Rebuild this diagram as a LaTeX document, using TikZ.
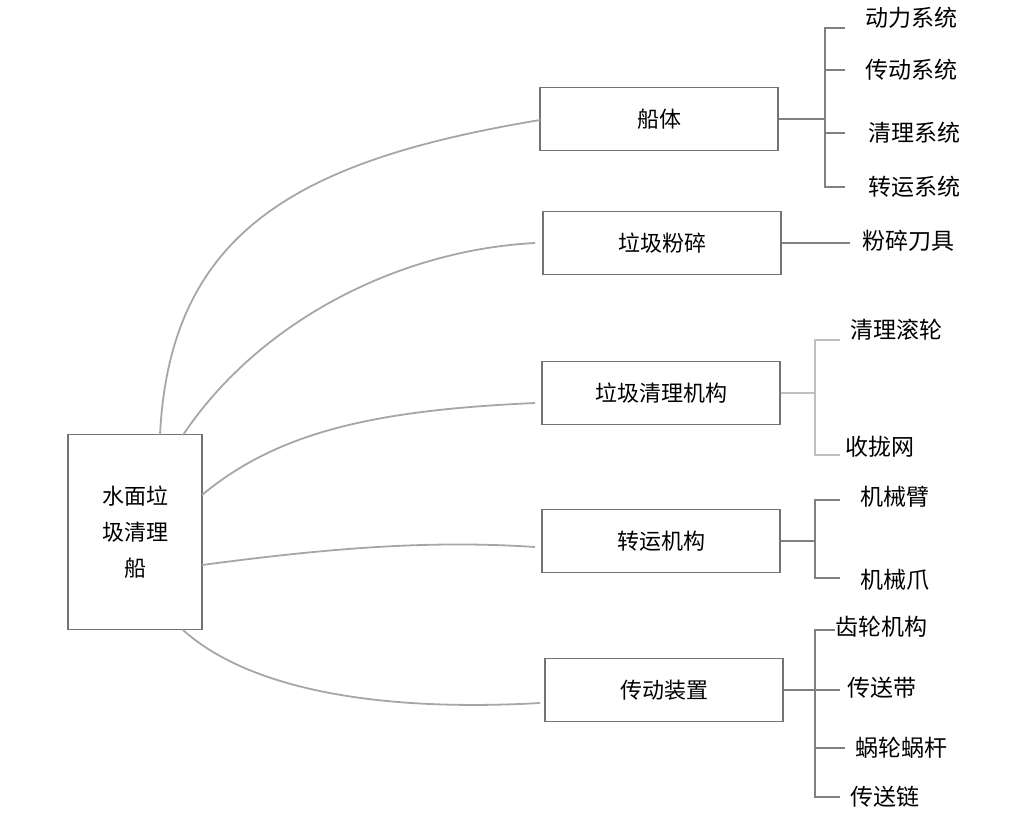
\documentclass[tikz,border=0pt]{standalone}
\usepackage{fontspec}
\newfontfamily\cjk{Noto Sans CJK SC}
\begin{document}
\begin{tikzpicture}[x=1pt,y=-1pt,
  box/.style={draw=black!55,line width=1.2pt,fill=white,font=\cjk\fontsize{22}{26}\selectfont,inner sep=0pt},
  leaf/.style={anchor=west,font=\cjk\fontsize{23}{26}\selectfont,inner sep=0pt},
  con/.style={draw=black!35,line width=1.8pt},
  br/.style={draw=black!50,line width=1.2pt},
  lbr/.style={draw=black!25,line width=1.2pt}]
\useasboundingbox (0,0) rectangle (1024,816);
\node[box,minimum width=134pt,minimum height=195pt,align=center,font=\cjk\fontsize{22}{36}\selectfont] (root) at (135,532) {水面垃\\圾清理\\船};
\node[box,minimum width=238pt,minimum height=63pt] (b1) at (659,119) {船体};
\node[box,minimum width=238pt,minimum height=63pt] (b2) at (662,243) {垃圾粉碎};
\node[box,minimum width=238pt,minimum height=63pt] (b3) at (661,393) {垃圾清理机构};
\node[box,minimum width=238pt,minimum height=63pt] (b4) at (661,541) {转运机构};
\node[box,minimum width=238pt,minimum height=63pt] (b5) at (664,690) {传动装置};
% curves
\coordinate (r1) at (160,435); \coordinate (e1) at (540,120);
\coordinate (r2) at (183,435); \coordinate (e2) at (535,243);
\coordinate (r3) at (202,495); \coordinate (e3) at (535,403);
\coordinate (r4) at (202,565); \coordinate (e4) at (535,547);
\coordinate (r5) at (183,630); \coordinate (e5) at (540,703);
\draw[con] (r1) .. controls (170,230) and (300,160) .. (e1);
\draw[con] (r2) .. controls (260,320) and (400,250) .. (e2);
\draw[con] (r3) .. controls (280,430) and (380,410) .. (e3);
\draw[con] (r4) .. controls (330,548) and (430,540) .. (e4);
\draw[con] (r5) .. controls (250,690) and (380,712) .. (e5);
% leaves
\node[leaf] (l11) at (865,18) {动力系统};
\node[leaf] (l12) at (865,70) {传动系统};
\node[leaf] (l13) at (868,133) {清理系统};
\node[leaf] (l14) at (868,187) {转运系统};
\node[leaf] (l21) at (862,241) {粉碎刀具};
\node[leaf] (l31) at (850,330) {清理滚轮};
\node[leaf] (l32) at (845,447) {收拢网};
\node[leaf] (l41) at (860,497) {机械臂};
\node[leaf] (l42) at (860,580) {机械爪};
\node[leaf] (l51) at (835,627) {齿轮机构};
\node[leaf] (l52) at (847,688) {传送带};
\node[leaf] (l53) at (855,748) {蜗轮蜗杆};
\node[leaf] (l54) at (850,797) {传送链};
% brackets
\draw[br] (b1.east) -- (825,119);
\draw[br] (845,28) -| (825,187) -- (845,187);
\draw[br] (825,70) -- (845,70); \draw[br] (825,133) -- (845,133);
\draw[br] (b2.east) -- (850,243);
\draw[lbr] (b3.east) -- (815,393);
\draw[lbr] (840,340) -| (815,455) -- (840,455);
\draw[br] (b4.east) -- (815,541);
\draw[br] (840,500) -| (815,578) -- (840,578);
\draw[br] (b5.east) -- (815,690);
\draw[br] (835,630) -| (815,797) -- (840,797);
\draw[br] (815,690) -- (840,690); \draw[br] (815,748) -- (845,748);
\end{tikzpicture}
\end{document}
